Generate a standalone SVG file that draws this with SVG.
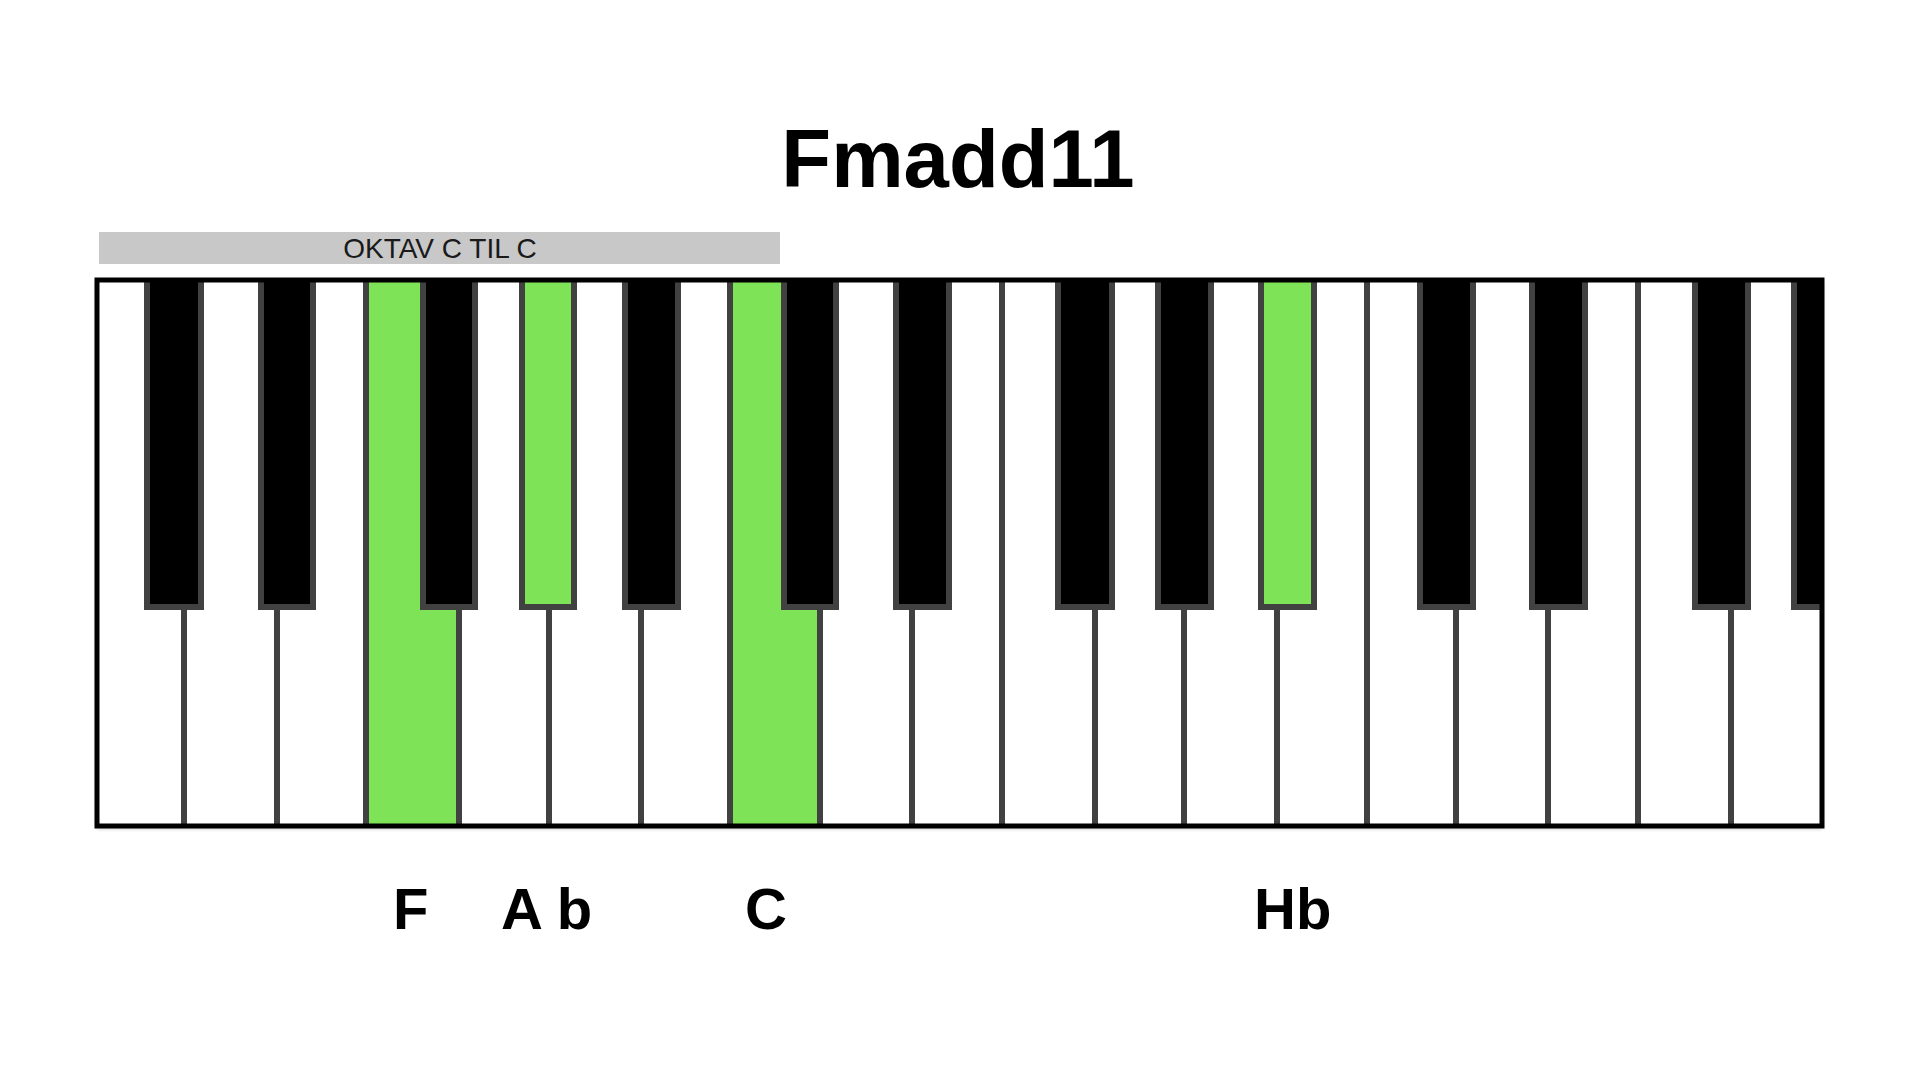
<svg xmlns="http://www.w3.org/2000/svg" width="1920" height="1080" viewBox="0 0 1920 1080">
  <style>
    .title { font-family: "Liberation Sans", Arial, sans-serif; font-weight: bold; font-size: 81.5px; fill: #000; }
    .note { font-family: "Liberation Sans", Arial, sans-serif; font-weight: bold; font-size: 58px; fill: #000; }
    .bartext { font-family: "Liberation Sans", Arial, sans-serif; font-size: 28px; fill: #1a1a1a; }
    .div { stroke: #414141; stroke-width: 6; }
    .black { fill: #000; stroke: #414141; stroke-width: 6; }
    .blackg { fill: #7ee356; stroke: #414141; stroke-width: 6; }
    .green { fill: #7ee356; }
  </style>
  <defs>
    <clipPath id="kb">
      <rect x="97" y="280" width="1725" height="546"/>
    </clipPath>
    <filter id="sh" x="-2%" y="-5%" width="104%" height="110%">
      <feDropShadow dx="0" dy="2" stdDeviation="2" flood-color="#000" flood-opacity="0.35"/>
    </filter>
  </defs>
  <rect width="1920" height="1080" fill="#fff"/>

  <text class="title" x="958" y="187" text-anchor="middle">Fmadd11</text>

  <g id="octave-bar">
    <rect x="99" y="232" width="681" height="32" fill="#c8c8c8"/>
    <text class="bartext" x="440" y="258" text-anchor="middle">OKTAV C TIL C</text>
  </g>

  <g id="keyboard">
    <rect x="97" y="280" width="1725" height="546" fill="#fff" filter="url(#sh)"/>
    <g clip-path="url(#kb)">
      <g id="white-keys">
        <rect id="key-F" class="green" x="366" y="280" width="93" height="546"/>
        <rect id="key-C" class="green" x="730" y="280" width="90" height="546"/>
        <line class="div" x1="184" y1="280" x2="184" y2="826"/>
        <line class="div" x1="277" y1="280" x2="277" y2="826"/>
        <line class="div" x1="366" y1="280" x2="366" y2="826"/>
        <line class="div" x1="459" y1="280" x2="459" y2="826"/>
        <line class="div" x1="549" y1="280" x2="549" y2="826"/>
        <line class="div" x1="641" y1="280" x2="641" y2="826"/>
        <line class="div" x1="730" y1="280" x2="730" y2="826"/>
        <line class="div" x1="820" y1="280" x2="820" y2="826"/>
        <line class="div" x1="912" y1="280" x2="912" y2="826"/>
        <line class="div" x1="1002" y1="280" x2="1002" y2="826"/>
        <line class="div" x1="1095" y1="280" x2="1095" y2="826"/>
        <line class="div" x1="1184" y1="280" x2="1184" y2="826"/>
        <line class="div" x1="1277" y1="280" x2="1277" y2="826"/>
        <line class="div" x1="1367" y1="280" x2="1367" y2="826"/>
        <line class="div" x1="1456" y1="280" x2="1456" y2="826"/>
        <line class="div" x1="1548" y1="280" x2="1548" y2="826"/>
        <line class="div" x1="1638" y1="280" x2="1638" y2="826"/>
        <line class="div" x1="1731" y1="280" x2="1731" y2="826"/>
      </g>
      <g id="black-keys">
        <rect class="black" x="147" y="274" width="54" height="333"/>
        <rect class="black" x="261" y="274" width="52" height="333"/>
        <rect class="black" x="423" y="274" width="52" height="333"/>
        <rect id="key-Ab" class="blackg" x="522" y="274" width="52" height="333"/>
        <rect class="black" x="625" y="274" width="53" height="333"/>
        <rect class="black" x="784" y="274" width="52" height="333"/>
        <rect class="black" x="896" y="274" width="53" height="333"/>
        <rect class="black" x="1058" y="274" width="54" height="333"/>
        <rect class="black" x="1158" y="274" width="53" height="333"/>
        <rect id="key-Hb" class="blackg" x="1261" y="274" width="53" height="333"/>
        <rect class="black" x="1420" y="274" width="53" height="333"/>
        <rect class="black" x="1532" y="274" width="53" height="333"/>
        <rect class="black" x="1695" y="274" width="53" height="333"/>
        <rect class="black" x="1794" y="274" width="53" height="333"/>
      </g>
    </g>
    <rect x="97" y="280" width="1725" height="546" fill="none" stroke="#000" stroke-width="5"/>
  </g>

  <g id="labels">
    <text class="note" x="393" y="929">F</text>
    <text class="note" x="501" y="929">A b</text>
    <text class="note" x="745" y="929">C</text>
    <text class="note" x="1254" y="929">Hb</text>
  </g>
</svg>
